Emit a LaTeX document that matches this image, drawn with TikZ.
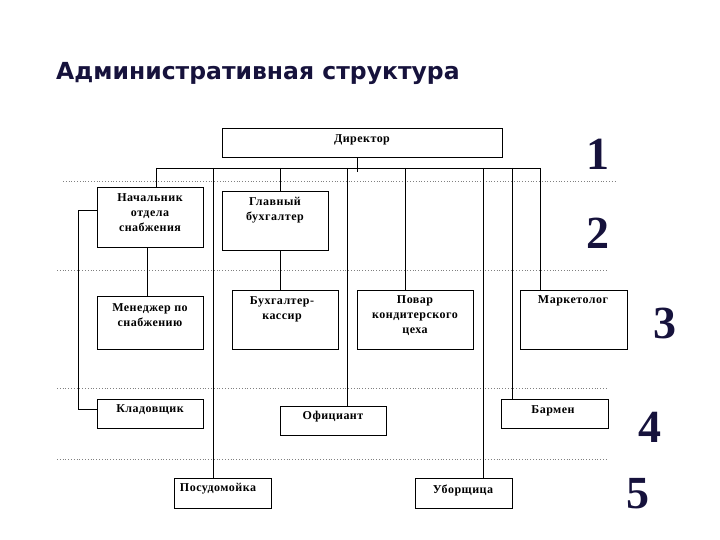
\documentclass[tikz,border=0pt]{standalone}
\usepackage{fontspec}
\setmainfont{Liberation Serif}
\newfontfamily\boxfont[LetterSpace=4]{Liberation Serif}
\newfontfamily\titlefont{DejaVu Sans}
\definecolor{navy}{HTML}{16123C}
\begin{document}
\begin{tikzpicture}[x=1pt,y=-1pt,
  box/.style={draw,line width=0.8pt,rectangle,inner sep=0pt,anchor=north west},
  lbl/.style={font=\boxfont\fontsize{12}{15}\selectfont\bfseries,align=center,inner sep=0pt},
  conn/.style={line width=0.8pt},
  sep/.style={gray,dotted,line width=0.8pt},
  num/.style={font=\fontsize{46}{46}\selectfont\bfseries,text=navy,inner sep=0pt}]
\useasboundingbox (0,0) rectangle (720,540);
% title
\node[anchor=base west,inner sep=0pt,font=\titlefont\fontsize{23.5}{26}\selectfont\bfseries,text=navy] (title) at (56,80) {Административная структура};
% dotted separators
\draw[sep] (63,181) -- (616,181);
\draw[sep] (57,270) -- (607,270);
\draw[sep] (57,388) -- (607,388);
\draw[sep] (57,459) -- (607,459);
% boxes
\node[box,minimum width=280pt,minimum height=29pt] (dir) at (222,128) {};
\node[box,minimum width=106pt,minimum height=60pt] (nach) at (97,187) {};
\node[box,minimum width=106pt,minimum height=59pt] (glav) at (222,191) {};
\node[box,minimum width=106pt,minimum height=53pt] (men) at (97,296) {};
\node[box,minimum width=106pt,minimum height=59pt] (buh) at (232,290) {};
\node[box,minimum width=116pt,minimum height=59pt] (pov) at (357,290) {};
\node[box,minimum width=107pt,minimum height=59pt] (mark) at (520,290) {};
\node[box,minimum width=106pt,minimum height=29pt] (klad) at (97,399) {};
\node[box,minimum width=106pt,minimum height=29pt] (ofic) at (280,406) {};
\node[box,minimum width=107pt,minimum height=29pt] (barm) at (501,399) {};
\node[box,minimum width=97pt,minimum height=30pt] (posu) at (174,478) {};
\node[box,minimum width=97pt,minimum height=30pt] (ubor) at (415,478) {};
% labels
\node[lbl] (dirT) at (362,140) {Директор};
\node[lbl] (nachT) at (150,213) {Начальник\\отдела\\снабжения};
\node[lbl] (glavT) at (275,210) {Главный\\бухгалтер};
\node[lbl] (menT) at (150,315) {Менеджер по\\снабжению};
\node[lbl] (buhT) at (282,309) {Бухгалтер-\\кассир};
\node[lbl] (povT) at (415,316) {Повар\\кондитерского\\цеха};
\node[lbl] (markT) at (573,301) {Маркетолог};
\node[lbl] (kladT) at (150,410) {Кладовщик};
\node[lbl] (oficT) at (333,417) {Официант};
\node[lbl] (barmT) at (553,411) {Бармен};
\node[lbl] (posuT) at (218,489) {Посудомойка};
\node[lbl] (uborT) at (463,490) {Уборщица};
% numbers
\node[num] (n1) at (598,154) {1};
\node[num] (n2) at (598,233) {2};
\node[num] (n3) at (665,323) {3};
\node[num] (n4) at (650,427) {4};
\node[num] (n5) at (638,494) {5};
% bus
\coordinate (stem) at (357,172);
\coordinate (busL) at (156,168);
\coordinate (busR) at (540,168);
\draw[conn] (dir.south -| stem) -- (stem);
\draw[conn] (busL) -- (busR);
\coordinate (tP) at (213,168);
\coordinate (tG) at (280,168);
\coordinate (tO) at (347,168);
\coordinate (tV) at (405,168);
\coordinate (tU) at (483,168);
\coordinate (tB) at (512,168);
\draw[conn] (busL) -- (busL |- nach.north);
\draw[conn] (tP) -- (tP |- posu.north);
\draw[conn] (tG) -- (tG |- glav.north);
\draw[conn] (tO) -- (tO |- ofic.north);
\draw[conn] (tV) -- (tV |- pov.north);
\draw[conn] (tU) -- (tU |- ubor.north);
\draw[conn] (tB) -- (tB |- barm.north);
\draw[conn] (busR) -- (busR |- mark.north);
% sub-connections
\coordinate (nb) at (147,247);
\draw[conn] (nb) -- (nb |- men.north);
\draw[conn] (glav.south -| tG) -- (tG |- buh.north);
\coordinate (k1) at (78,210);
\coordinate (k2) at (78,409);
\draw[conn] (nach.west |- k1) -- (k1) -- (k2) -- (klad.west |- k2);
\end{tikzpicture}
\end{document}
